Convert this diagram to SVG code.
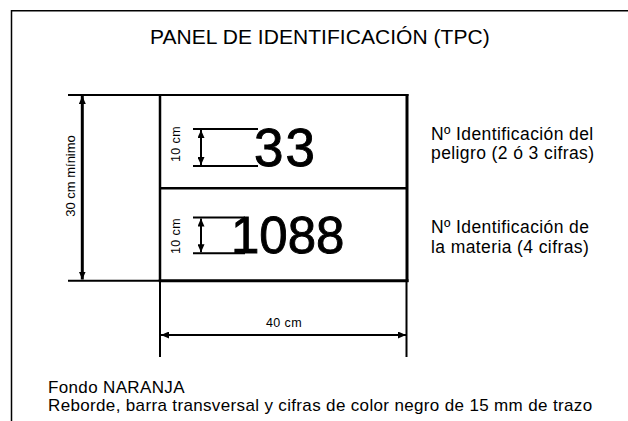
<svg xmlns="http://www.w3.org/2000/svg" width="628" height="421" viewBox="0 0 628 421">
<style>
  text { font-family: "Liberation Sans", Arial, sans-serif; fill: #000; }
  .ln { stroke: #000; fill: none; stroke-linecap: butt; }
  .title { font-size: 21px; letter-spacing: 0.05px; }
  .lab { font-size: 17.5px; letter-spacing: 0.4px; }
  .note { font-size: 17px; letter-spacing: 0.35px; }
  .dim { font-size: 12.5px; letter-spacing: 0.4px; text-anchor: middle; }
  .big { font-size: 53px; stroke: #000; stroke-width: 0.9px; }
</style>
<defs>
  <marker id="ah" viewBox="0 0 8 7" refX="8" refY="3.5" markerWidth="8" markerHeight="7" markerUnits="userSpaceOnUse" orient="auto-start-reverse">
    <path d="M0,0 L8,3.5 L0,7 Z" fill="#000"/>
  </marker>
</defs>
<rect width="628" height="421" fill="#fff"/>
<g id="frame">
  <path class="ln" d="M11.5,421 V10.8 H628" stroke-width="1.5"/>
</g>
<g id="title">
  <text class="title" x="150" y="44">PANEL DE IDENTIFICACIÓN (TPC)</text>
</g>
<g id="panel">
  <path class="ln" d="M160,94 V281" stroke-width="2.5"/>
  <path class="ln" d="M158.8,95 H408.5" stroke-width="2"/>
  <path class="ln" d="M160,188.3 H407" stroke-width="2.5"/>
  <path class="ln" d="M407,94 V282" stroke-width="3"/>
  <path class="ln" d="M158.8,280.8 H408.5" stroke-width="3"/>
</g>
<g id="hazard">
  <path class="ln" d="M193,129 H258 M193,166 H258" stroke-width="2"/>
  <text class="big" x="254" y="166" style="letter-spacing:2px">33</text>
  <text class="dim" transform="translate(180,144) rotate(-90)">10 cm</text>
</g>
<g id="material">
  <path class="ln" d="M193,217.5 H245 M193,253.3 H245" stroke-width="2"/>
  <text class="big" x="231" y="253.3" style="font-size:51px">1088</text>
  <text class="dim" transform="translate(180,236) rotate(-90)">10 cm</text>
</g>
<g id="connectors">
  <path class="ln" d="M68,95 H160 M68,280.8 H160" stroke-width="2"/>
  <path class="ln" d="M82.3,96 V279.5" stroke-width="3" marker-start="url(#ah)" marker-end="url(#ah)"/>
  <path class="ln" d="M201,130 V165" stroke-width="2" marker-start="url(#ah)" marker-end="url(#ah)"/>
  <path class="ln" d="M201,218.5 V252.3" stroke-width="2" marker-start="url(#ah)" marker-end="url(#ah)"/>
  <path class="ln" d="M160,281 V357 M406.5,281 V357" stroke-width="2"/>
  <path class="ln" d="M161,335 H406" stroke-width="2" marker-start="url(#ah)" marker-end="url(#ah)"/>
</g>
<g id="dim-labels">
  <text class="dim" style="font-size:13px;letter-spacing:0" transform="translate(75,176) rotate(-90)">30 cm mínimo</text>
  <text class="dim" x="284" y="326.5">40 cm</text>
</g>
<g id="hazard-label">
  <text class="lab" x="431" y="140">Nº Identificación del</text>
  <text class="lab" x="431" y="159">peligro (2 ó 3 cifras)</text>
</g>
<g id="material-label">
  <text class="lab" x="431" y="233">Nº Identificación de</text>
  <text class="lab" x="431" y="252.5">la materia (4 cifras)</text>
</g>
<g id="notes">
  <text class="note" x="48" y="392.5">Fondo NARANJA</text>
  <text class="note" x="48" y="411">Reborde, barra transversal y cifras de color negro de 15 mm de trazo</text>
</g>
</svg>
